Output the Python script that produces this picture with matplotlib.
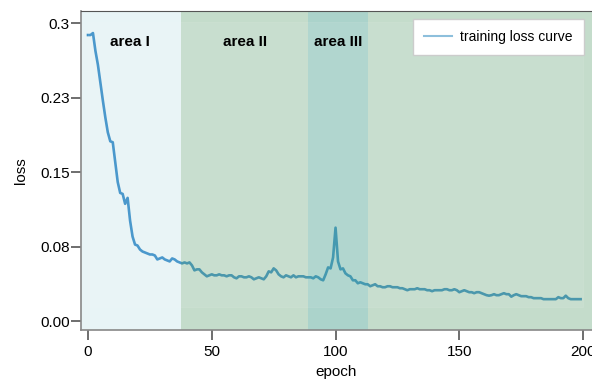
import numpy as np
import matplotlib.pyplot as plt
from matplotlib.lines import Line2D
from matplotlib.patches import Rectangle

plt.rcParams['font.family'] = ['Liberation Sans', 'DejaVu Sans']

# training loss per epoch
loss = [
    0.288, 0.288, 0.290, 0.272, 0.258, 0.240, 0.222, 0.205, 0.190, 0.181,
    0.180, 0.160, 0.140, 0.129, 0.128, 0.118, 0.124, 0.101, 0.085, 0.077,
    0.076, 0.072, 0.070, 0.069, 0.068, 0.067, 0.067, 0.066, 0.062, 0.063,
    0.064, 0.062, 0.061, 0.060, 0.063, 0.062, 0.060, 0.059, 0.058, 0.059,
    0.058, 0.059, 0.056, 0.051, 0.052, 0.052, 0.049, 0.047, 0.045, 0.046,
    0.047, 0.046, 0.046, 0.047, 0.046, 0.046, 0.045, 0.046, 0.046, 0.044,
    0.043, 0.045, 0.045, 0.044, 0.044, 0.045, 0.044, 0.042, 0.043, 0.044,
    0.043, 0.042, 0.045, 0.050, 0.049, 0.053, 0.051, 0.047, 0.045, 0.044,
    0.046, 0.045, 0.044, 0.046, 0.044, 0.045, 0.045, 0.045, 0.044, 0.044,
    0.044, 0.043, 0.045, 0.044, 0.042, 0.041, 0.047, 0.054, 0.053, 0.064,
    0.094, 0.060, 0.052, 0.053, 0.048, 0.046, 0.045, 0.041, 0.041, 0.038,
    0.039, 0.038, 0.037, 0.037, 0.035, 0.036, 0.037, 0.035, 0.035, 0.034,
    0.034, 0.035, 0.035, 0.034, 0.034, 0.034, 0.033, 0.033, 0.032, 0.031,
    0.032, 0.032, 0.032, 0.033, 0.032, 0.032, 0.032, 0.031, 0.031, 0.030,
    0.031, 0.031, 0.031, 0.031, 0.032, 0.032, 0.031, 0.031, 0.032, 0.031,
    0.029, 0.030, 0.031, 0.030, 0.029, 0.029, 0.028, 0.029, 0.029, 0.028,
    0.027, 0.026, 0.0255, 0.026, 0.027, 0.026, 0.026, 0.027, 0.028, 0.027,
    0.027, 0.0245, 0.026, 0.027, 0.026, 0.025, 0.025, 0.025, 0.024, 0.024,
    0.023, 0.023, 0.023, 0.023, 0.022, 0.022, 0.022, 0.022, 0.022, 0.022,
    0.024, 0.023, 0.023, 0.0255, 0.023, 0.022, 0.022, 0.022, 0.022, 0.022,
]
epochs = np.arange(len(loss))

# area boundaries (epoch)
area_edges = [-2.83, 37.6, 88.9, 113.0, 210]
area_names = ['area I', 'area II', 'area III']
area_label_x = [17, 63.4, 101]

y_ticks = [0.0, 0.075, 0.15, 0.225, 0.3]
y_ticklabels = ['0.00', '0.08', '0.15', '0.23', '0.3']
x_ticks = [0, 50, 100, 150, 200]

fig = plt.figure(figsize=(5.92, 3.81), dpi=100)
ax = fig.add_axes([81/592, 51/381, 511/592, 319/381])

ax.plot(epochs, loss, color='#3c90c8', lw=1.9, zorder=1)

# shaded areas
ax.axvspan(area_edges[0], area_edges[1], color='#e8f4f6', zorder=0, lw=0)
ax.axvspan(area_edges[1], area_edges[2], color='#3e8e55', alpha=0.3, zorder=2, lw=0)
ax.axvspan(area_edges[2], area_edges[3], color='#2d937d', alpha=0.4, zorder=2, lw=0)
ax.axvspan(area_edges[3], area_edges[4], color='#3e8e55', alpha=0.3, zorder=2, lw=0)
ax.add_patch(Rectangle((0, 0.014), 200, 0.287, facecolor='white', alpha=0.08,
                       edgecolor='white', lw=0.8, zorder=2.5))

for name, xl in zip(area_names, area_label_x):
    ax.text(xl, 0.281, name, ha='center', va='center', fontsize=11,
            fontweight='bold', zorder=4)

ax.set_xlim(area_edges[0], 203.6)
ax.set_ylim(-0.00906, 0.3122)
ax.set_xticks(x_ticks)
ax.set_yticks(y_ticks)
ax.set_yticklabels(y_ticklabels)
ax.tick_params(axis='both', labelsize=11, length=7, width=1.2, color='#555555',
               direction='out')
ax.tick_params(axis='y', pad=1)
ax.tick_params(axis='x', pad=4)

ax.spines['right'].set_visible(False)
for s in ['left', 'bottom', 'top']:
    ax.spines[s].set_color('#888888')
    ax.spines[s].set_linewidth(1.2)
ax.spines['top'].set_color('#555555')
ax.spines['top'].set_linewidth(0.8)

ax.set_xlabel('epoch', fontsize=11, labelpad=4)
ax.set_ylabel('loss', fontsize=11, labelpad=9)

handle = Line2D([], [], color='#8dbfdc', lw=1.5)
leg = ax.legend([handle], ['training loss curve'], loc='upper right',
                bbox_to_anchor=(0.984, 0.975), fontsize=10, fancybox=False,
                framealpha=1, edgecolor='#cccccc', handlelength=2.0,
                handletextpad=0.6, borderpad=0.8, borderaxespad=0)
leg.set_zorder(5)
leg.get_frame().set_linewidth(1.0)

plt.savefig('out.png', dpi=100)
